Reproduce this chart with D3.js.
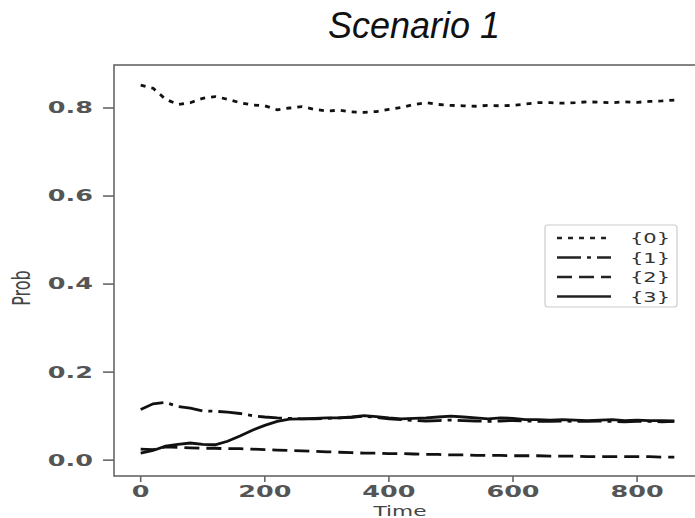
<!DOCTYPE html>
<html>
<head>
<meta charset="utf-8">
<style>
  body { margin: 0; background: #fff; }
  svg { display: block; font-family: 'DejaVu Sans', sans-serif; }
</style>
</head>
<body>
<svg width="695" height="518"></svg>
<script src="https://d3js.org/d3.v7.min.js"></script>
<script>
// time steps (x)
const times = [0, 20, 40, 60, 80, 100, 120, 140, 160, 180, 200, 220, 240, 260, 280, 300,
  320, 340, 360, 380, 400, 420, 440, 460, 480, 500, 520, 540, 560, 580, 600, 620,
  640, 660, 680, 700, 720, 740, 760, 780, 800, 820, 840, 860];

// {0} dotted
const p0 = [0.852, 0.845, 0.820, 0.808, 0.812, 0.822, 0.826, 0.820, 0.812, 0.807, 0.805, 0.796,
  0.800, 0.803, 0.797, 0.793, 0.795, 0.791, 0.790, 0.792, 0.797, 0.801, 0.808, 0.812,
  0.808, 0.806, 0.805, 0.804, 0.806, 0.805, 0.806, 0.809, 0.812, 0.812, 0.811, 0.812,
  0.814, 0.813, 0.812, 0.814, 0.813, 0.815, 0.816, 0.818];
// {1} dash-dot
const p1 = [0.115, 0.128, 0.131, 0.122, 0.118, 0.112, 0.111, 0.109, 0.106, 0.101, 0.098, 0.096,
  0.095, 0.094, 0.094, 0.095, 0.096, 0.097, 0.100, 0.097, 0.094, 0.092, 0.090, 0.089,
  0.090, 0.091, 0.090, 0.089, 0.088, 0.089, 0.090, 0.089, 0.088, 0.088, 0.089, 0.088,
  0.088, 0.089, 0.088, 0.087, 0.088, 0.088, 0.087, 0.088];
// {2} dashed
const p2 = [0.025, 0.024, 0.030, 0.029, 0.028, 0.027, 0.027, 0.026, 0.026, 0.025, 0.024, 0.023,
  0.022, 0.021, 0.020, 0.019, 0.018, 0.017, 0.016, 0.016, 0.015, 0.015, 0.014, 0.013,
  0.013, 0.012, 0.012, 0.011, 0.011, 0.011, 0.010, 0.010, 0.010, 0.009, 0.009, 0.009,
  0.008, 0.008, 0.008, 0.008, 0.008, 0.008, 0.007, 0.007];
// {3} solid
const p3 = [0.016, 0.022, 0.032, 0.036, 0.039, 0.036, 0.035, 0.043, 0.055, 0.068, 0.079, 0.088,
  0.093, 0.094, 0.095, 0.096, 0.096, 0.098, 0.101, 0.099, 0.096, 0.094, 0.095, 0.096,
  0.098, 0.100, 0.098, 0.096, 0.094, 0.096, 0.095, 0.092, 0.092, 0.091, 0.092, 0.091,
  0.090, 0.091, 0.092, 0.090, 0.091, 0.090, 0.090, 0.089];

const labels = ["{0}", "{1}", "{2}", "{3}"];
const dashes = ["5,6", "24,6,4,6", "15,7", null];
const xTicks = [0, 200, 400, 600, 800];
const yTicks = [0.0, 0.2, 0.4, 0.6, 0.8];

const svg = d3.select("svg");
const sx = 1.7; // text in the picture is stretched sideways

const x = d3.scaleLinear().domain([-43, 903]).range([114, 701]);
const y = d3.scaleLinear().domain([-0.036, 0.8977]).range([476, 65]);

// title
svg.append("text")
  .attr("x", 414).attr("y", 38)
  .attr("text-anchor", "middle")
  .style("font-family", "'Liberation Sans', Arial, sans-serif")
  .style("font-style", "italic")
  .style("font-size", "36px")
  .style("fill", "#111")
  .text("Scenario 1");

// frame
const axColor = "#666";
svg.append("rect")
  .attr("x", x.range()[0]).attr("y", y.range()[1])
  .attr("width", x.range()[1] - x.range()[0])
  .attr("height", y.range()[0] - y.range()[1])
  .attr("fill", "none").attr("stroke", axColor).attr("stroke-width", 1.6);

// y ticks
const yg = svg.append("g");
yg.selectAll("line").data(yTicks).join("line")
  .attr("x1", x.range()[0] - 11).attr("x2", x.range()[0])
  .attr("y1", d => y(d)).attr("y2", d => y(d))
  .attr("stroke", axColor).attr("stroke-width", 1.6);
yg.selectAll("text").data(yTicks).join("text")
  .attr("transform", d => `translate(93,${y(d)}) scale(${sx},1)`)
  .attr("text-anchor", "end")
  .attr("dy", "0.36em")
  .style("font-size", "15px")
  .style("font-weight", "bold")
  .style("fill", "#555")
  .text(d => d3.format(".1f")(d));

// x ticks
const xg = svg.append("g");
xg.selectAll("line").data(xTicks).join("line")
  .attr("x1", d => x(d)).attr("x2", d => x(d))
  .attr("y1", y.range()[0]).attr("y2", y.range()[0] + 6)
  .attr("stroke", axColor).attr("stroke-width", 1.6);
xg.selectAll("text").data(xTicks).join("text")
  .attr("transform", d => `translate(${x(d)},497) scale(${sx},1)`)
  .attr("text-anchor", "middle")
  .style("font-size", "15px")
  .style("font-weight", "bold")
  .style("fill", "#555")
  .text(d => d);

// axis labels
svg.append("text")
  .attr("transform", `translate(400,516) scale(1.55,1)`)
  .attr("text-anchor", "middle")
  .style("font-size", "14px")
  .style("fill", "#444")
  .text("Time");
svg.append("text")
  .attr("transform", `translate(30,288) rotate(-90) scale(1,1.6)`)
  .attr("text-anchor", "middle")
  .style("font-size", "16px")
  .style("fill", "#444")
  .text("Prob");

// lines
const series = [p0, p1, p2, p3];
const line = d3.line().x((d, i) => x(times[i])).y(d => y(d));
svg.append("g").selectAll("path").data(series).join("path")
  .attr("d", d => line(d))
  .attr("fill", "none")
  .attr("stroke", "#111")
  .attr("stroke-width", 2.8)
  .attr("stroke-dasharray", (d, i) => dashes[i]);

// legend
const lg = svg.append("g");
lg.append("rect")
  .attr("x", 545).attr("y", 225).attr("width", 132).attr("height", 82)
  .attr("rx", 3)
  .attr("fill", "#fff").attr("stroke", "#ccc").attr("stroke-width", 1.2);
const rows = lg.selectAll("g").data(labels).join("g")
  .attr("transform", (d, i) => `translate(0,${238 + i * 19.5})`);
rows.append("line")
  .attr("x1", 557).attr("x2", 611).attr("y1", 0).attr("y2", 0)
  .attr("stroke", "#222").attr("stroke-width", 2.4)
  .attr("stroke-dasharray", (d, i) => dashes[i]);
rows.append("text")
  .attr("transform", `translate(630,0) scale(1.5,1)`)
  .attr("dy", "0.36em")
  .style("font-size", "14px")
  .style("fill", "#333")
  .text(d => d);
</script>
</body>
</html>
